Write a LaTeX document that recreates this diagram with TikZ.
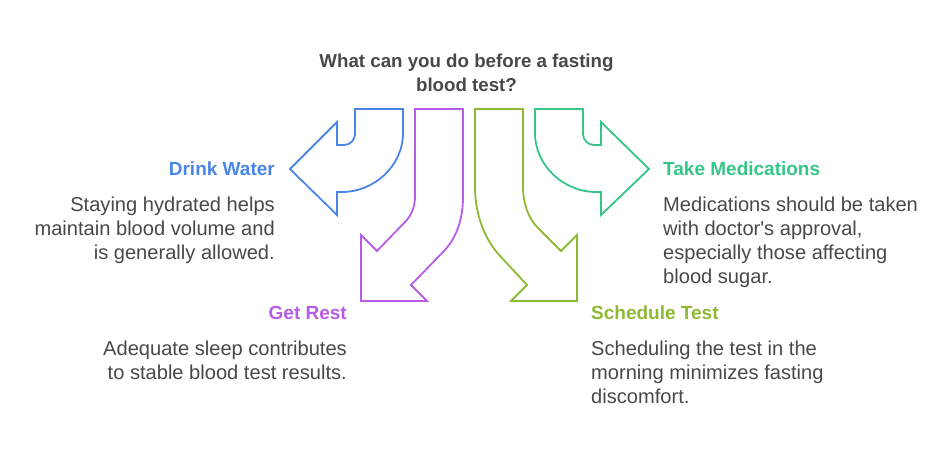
\documentclass[tikz,border=0pt]{standalone}
\usepackage{fontspec}
\setmainfont{Liberation Sans}
\definecolor{drinkblue}{HTML}{4A86E8}
\definecolor{restpurple}{HTML}{B75CE6}
\definecolor{testolive}{HTML}{8FB935}
\definecolor{medsgreen}{HTML}{35C687}
\definecolor{bodygrey}{HTML}{484848}
\tikzset{
  arrowline/.style={line width=1.8pt,line join=miter},
  headtext/.style={font=\fontsize{19}{24}\selectfont\bfseries,inner sep=0pt},
  titletext/.style={font=\fontsize{18.7}{24}\selectfont\bfseries,text=bodygrey,inner sep=0pt},
  bodytext/.style={font=\fontsize{20.1}{24}\selectfont,text=bodygrey,inner sep=0pt},
}
\begin{document}
\begin{tikzpicture}[x=1pt,y=-1pt]
  \useasboundingbox (0,0) rectangle (950,458);
  % arrows
  \draw [arrowline,drinkblue] (355,109) -- (403,109) -- (403,133)
    .. controls (403,166) and (374,192) .. (342,192) -- (337,192) -- (337,215)
    -- (290,169) -- (337,122) -- (337,145) -- (344,145)
    .. controls (350,145) and (355,140) .. (355,134) -- cycle;
  \draw [arrowline,restpurple] (415,109) -- (463,109) -- (463,197)
    .. controls (463,218) and (457,238) .. (443,252) -- (411,285)
    -- (427,301) -- (361,301) -- (361,235) -- (377,251) -- (405,222)
    .. controls (411,216) and (415,207) .. (415,197) -- cycle;
  \draw [arrowline,testolive] (475,109) -- (523,109) -- (523,187)
    .. controls (523,203) and (528,218) .. (538,228) -- (561,251)
    -- (577,235) -- (577,301) -- (511,301) -- (527,285) -- (502,258)
    .. controls (485,241) and (475,215) .. (475,187) -- cycle;
  \draw [arrowline,medsgreen] (583,109) -- (535,109) -- (535,133)
    .. controls (535,166) and (564,192) .. (596,192) -- (601,192) -- (601,215)
    -- (649,169) -- (601,122) -- (601,145) -- (594,145)
    .. controls (588,145) and (583,140) .. (583,134) -- cycle;
  % texts
  \node [titletext,align=center,anchor=north] (title) at (466.5,54)
    {What can you do before a fasting\\blood test?};
  \node [headtext,text=drinkblue,anchor=east] (drinkhead) at (275,169) {Drink Water};
  \node [bodytext,align=right,anchor=north east] (drinkbody) at (275,197)
    {Staying hydrated helps\\maintain blood volume and\\is generally allowed.};
  \node [headtext,text=restpurple,anchor=east] (resthead) at (347,313) {Get Rest};
  \node [bodytext,align=right,anchor=north east] (restbody) at (347,341)
    {Adequate sleep contributes\\to stable blood test results.};
  \node [headtext,text=testolive,anchor=west] (testhead) at (591,313) {Schedule Test};
  \node [bodytext,align=left,anchor=north west] (testbody) at (591,341)
    {Scheduling the test in the\\morning minimizes fasting\\discomfort.};
  \node [headtext,text=medsgreen,anchor=west] (medshead) at (663,169) {Take Medications};
  \node [bodytext,align=left,anchor=north west] (medsbody) at (663,197)
    {Medications should be taken\\with doctor\textquotesingle s approval,\\especially those affecting\\blood sugar.};
\end{tikzpicture}
\end{document}
